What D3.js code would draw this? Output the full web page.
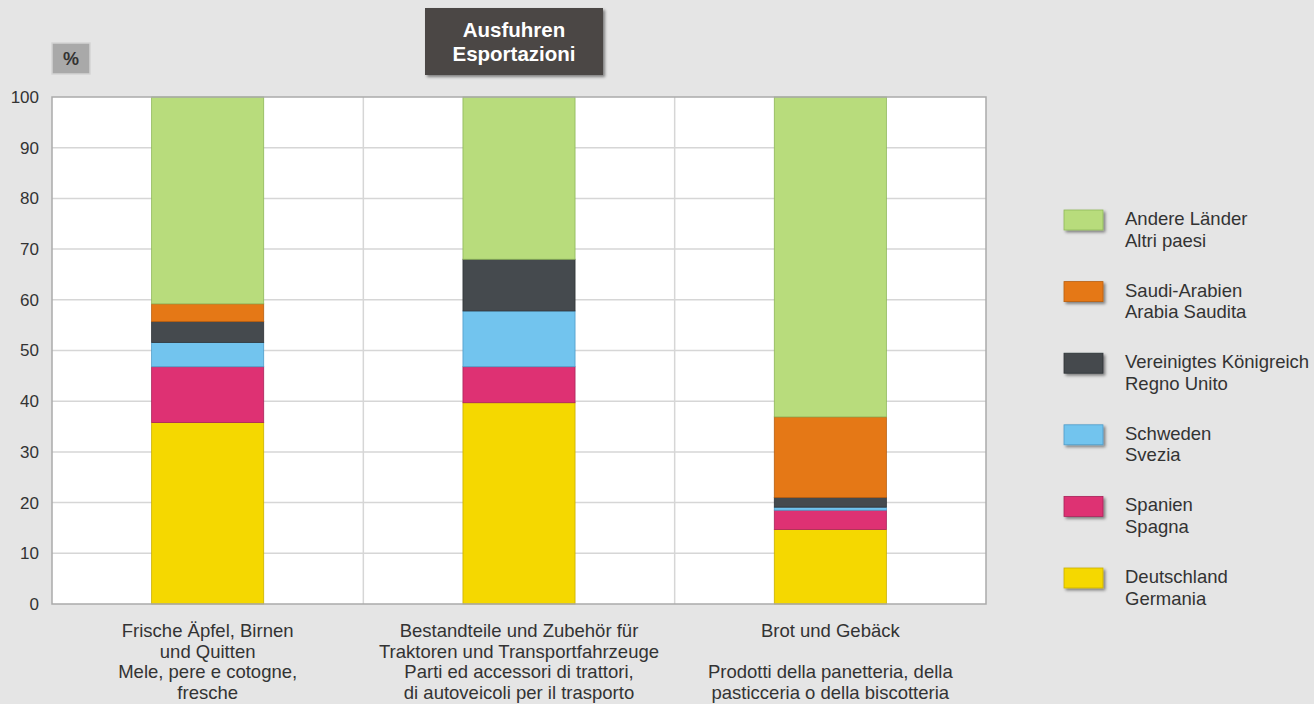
<!DOCTYPE html>
<html lang="de">
  <head>
    <meta charset="UTF-8" />
    <title>Ausfuhren / Esportazioni</title>
    <script src="https://d3js.org/d3.v7.min.js"></script>
    <style>
      body {
        margin: 0;
        background: #e5e5e5;
      }
      svg {
        display: block;
        font-family: 'Liberation Sans', Arial, sans-serif;
      }
    </style>
  </head>
  <body>
    <svg width="1314" height="704"></svg>
    <script>
      // categories (label lines, '' = blank line)
      const categories = ['apples', 'parts', 'bread'];
      const categoryLabels = [
        ['Frische Äpfel, Birnen', 'und Quitten', 'Mele, pere e cotogne,', 'fresche'],
        ['Bestandteile und Zubehör für', 'Traktoren und Transportfahrzeuge', 'Parti ed accessori di trattori,', 'di autoveicoli per il trasporto'],
        ['Brot und Gebäck', '', 'Prodotti della panetteria, della', 'pasticceria o della biscotteria'],
      ];

      // series, bottom to top
      const seriesKeys = ['de', 'es', 'se', 'uk', 'sa', 'other'];
      const seriesLabels = [
        ['Deutschland', 'Germania'],
        ['Spanien', 'Spagna'],
        ['Schweden', 'Svezia'],
        ['Vereinigtes Königreich', 'Regno Unito'],
        ['Saudi-Arabien', 'Arabia Saudita'],
        ['Andere Länder', 'Altri paesi'],
      ];
      const colors = ['#f5d800', '#de3173', '#72c4ee', '#454a4e', '#e57816', '#b8dc7c'];
      const strokes = ['#c9b000', '#a8245a', '#4f9cc8', '#2e3236', '#b85e10', '#8fb85a'];

      const deutschland = [35.8, 39.7, 14.7];
      const spanien = [11.0, 7.1, 3.8];
      const schweden = [4.8, 11.0, 0.6];
      const grossbritannien = [4.1, 10.2, 1.9];
      const saudiArabien = [3.5, 0, 15.9];
      const andere = [40.8, 32.0, 63.1];

      const yTicks = [0, 10, 20, 30, 40, 50, 60, 70, 80, 90, 100];

      const seriesValues = [deutschland, spanien, schweden, grossbritannien, saudiArabien, andere];
      const rows = categories.map((c, i) => {
        const row = { cat: c };
        seriesKeys.forEach((k, j) => (row[k] = seriesValues[j][i]));
        return row;
      });
      const stacked = d3.stack().keys(seriesKeys)(rows);

      const svg = d3.select('svg');
      const margin = { left: 52, right: 328, top: 97, bottom: 100 };
      const width = 1314;
      const height = 704;

      const x = d3
        .scaleBand()
        .domain(categories)
        .range([margin.left, width - margin.right]);
      const y = d3
        .scaleLinear()
        .domain([0, 100])
        .range([height - margin.bottom, margin.top]);

      const defs = svg.append('defs');
      const shadow = defs.append('filter').attr('id', 'shadow').attr('x', '-20%').attr('y', '-20%').attr('width', '150%').attr('height', '160%');
      shadow.append('feDropShadow').attr('dx', 2).attr('dy', 2).attr('stdDeviation', 1.5).attr('flood-color', '#000').attr('flood-opacity', 0.45);

      // plot background
      svg
        .append('rect')
        .attr('x', margin.left)
        .attr('y', margin.top)
        .attr('width', x.range()[1] - margin.left)
        .attr('height', y(0) - y(100))
        .attr('fill', '#fff');

      // horizontal grid
      svg
        .append('g')
        .selectAll('line')
        .data(yTicks.slice(1, -1))
        .join('line')
        .attr('x1', margin.left)
        .attr('x2', x.range()[1])
        .attr('y1', (d) => y(d))
        .attr('y2', (d) => y(d))
        .attr('stroke', '#d6d6d6')
        .attr('stroke-width', 1.5);

      // vertical separators between categories
      svg
        .append('g')
        .selectAll('line')
        .data(categories.slice(1))
        .join('line')
        .attr('x1', (d) => x(d))
        .attr('x2', (d) => x(d))
        .attr('y1', y(100))
        .attr('y2', y(0))
        .attr('stroke', '#d6d6d6')
        .attr('stroke-width', 1.5);

      // bars
      const barW = x.bandwidth() * 0.36;
      svg
        .append('g')
        .selectAll('g')
        .data(stacked)
        .join('g')
        .attr('fill', (d, i) => colors[i])
        .attr('stroke', (d, i) => strokes[i])
        .selectAll('rect')
        .data((d) => d.filter((s) => s[1] - s[0] > 0))
        .join('rect')
        .attr('x', (d) => x(d.data.cat) + (x.bandwidth() - barW) / 2)
        .attr('width', barW)
        .attr('y', (d) => y(d[1]))
        .attr('height', (d) => y(d[0]) - y(d[1]))
        .attr('stroke-width', 0.8);

      // plot border
      svg
        .append('rect')
        .attr('x', margin.left)
        .attr('y', margin.top)
        .attr('width', x.range()[1] - margin.left)
        .attr('height', y(0) - y(100))
        .attr('fill', 'none')
        .attr('stroke', '#aaa')
        .attr('stroke-width', 1.5);

      // y axis
      const yAxis = svg
        .append('g')
        .attr('transform', `translate(${margin.left},0)`)
        .call(d3.axisLeft(y).tickValues(yTicks).tickSize(0).tickPadding(13));
      yAxis.select('.domain').remove();
      yAxis.selectAll('text').attr('font-size', 17).attr('fill', '#333').style('font-family', 'Liberation Sans, Arial, sans-serif');

      // x labels
      svg
        .append('g')
        .selectAll('text')
        .data(categories)
        .join('text')
        .attr('text-anchor', 'middle')
        .attr('font-size', 18.5)
        .attr('fill', '#333')
        .attr('x', (d) => x(d) + x.bandwidth() / 2)
        .selectAll('tspan')
        .data((d, i) => categoryLabels[i])
        .join('tspan')
        .attr('x', function () {
          return this.parentNode.getAttribute('x');
        })
        .attr('y', (d, i) => 637 + i * 20.5)
        .text((d) => d);

      // % box
      svg
        .append('rect')
        .attr('x', 52)
        .attr('y', 43)
        .attr('width', 38)
        .attr('height', 31)
        .attr('fill', '#a9a9a9')
        .attr('stroke', '#d4d4d4')
        .attr('stroke-width', 1.5);
      svg
        .append('text')
        .attr('x', 71)
        .attr('y', 65)
        .attr('text-anchor', 'middle')
        .attr('font-size', 18)
        .attr('font-weight', 'bold')
        .attr('fill', '#333')
        .text('%');

      // title box
      svg
        .append('rect')
        .attr('x', 425)
        .attr('y', 8)
        .attr('width', 178)
        .attr('height', 67)
        .attr('fill', '#4b4644')
        .attr('filter', 'url(#shadow)');
      svg
        .append('text')
        .attr('text-anchor', 'middle')
        .attr('font-size', 20.5)
        .attr('font-weight', 'bold')
        .attr('fill', '#fff')
        .selectAll('tspan')
        .data(['Ausfuhren', 'Esportazioni'])
        .join('tspan')
        .attr('x', 514)
        .attr('y', (d, i) => 37 + i * 24)
        .text((d) => d);

      // legend, top to bottom
      const legendOrder = d3.range(seriesKeys.length).reverse();
      const legend = svg
        .append('g')
        .selectAll('g')
        .data(legendOrder)
        .join('g')
        .attr('transform', (d, i) => `translate(1064,${210 + i * 71.6})`);
      legend
        .append('rect')
        .attr('width', 39)
        .attr('height', 20)
        .attr('fill', (d) => colors[d])
        .attr('stroke', (d) => strokes[d])
        .attr('stroke-width', 0.8)
        .attr('filter', 'url(#shadow)');
      legend
        .append('text')
        .attr('font-size', 18.5)
        .attr('fill', '#333')
        .selectAll('tspan')
        .data((d) => seriesLabels[d])
        .join('tspan')
        .attr('x', 61)
        .attr('y', (d, i) => 15 + i * 21.5)
        .text((d) => d);
    </script>
  </body>
</html>
